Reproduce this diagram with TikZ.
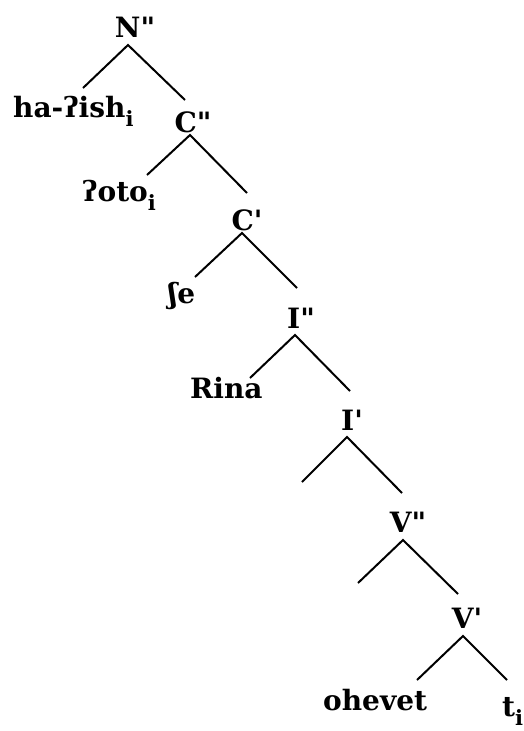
\documentclass[tikz,border=0pt]{standalone}
\usepackage{fontspec}
\setmainfont{DejaVu Serif}
\newcommand\subi{\raisebox{-9pt}{\fontsize{21}{21}\selectfont i}}
\newcommand\dpr{\textquotedbl}
\newcommand\spr{\textquotesingle}
\tikzset{
  lab/.style={inner sep=0pt, font=\fontsize{28}{30}\selectfont\bfseries},
  edge/.style={line width=2pt}
}
\begin{document}
\begin{tikzpicture}[x=1pt,y=-1pt]
\useasboundingbox[fill=white] (0,0) rectangle (524,731);
% labels
\node[lab, anchor=base] (N) at (135,37) {N\dpr};
\node[lab, anchor=base west] (ha) at (13,117) {ha-ʔish\subi};
\node[lab, anchor=base] (C2) at (193,132) {C\dpr};
\node[lab, anchor=base west] (oto) at (82,201) {ʔoto\subi};
\node[lab, anchor=base] (C1) at (247,230) {C\spr};
\node[lab, anchor=base west] (se) at (168,303) {ʃe};
\node[lab, anchor=base] (I2) at (301,328) {I\dpr};
\node[lab, anchor=base west] (rina) at (190,398) {Rina};
\node[lab, anchor=base] (I1) at (352,430) {I\spr};
\node[lab, anchor=base] (V2) at (408,532) {V\dpr};
\node[lab, anchor=base] (V1) at (467,628) {V\spr};
\node[lab, anchor=base west] (oh) at (323,710) {ohevet};
\node[lab, anchor=base west] (t) at (502,716) {t\subi};
% branch points
\coordinate (Na) at (128,45);  \coordinate (Nl) at (83,88);   \coordinate (Nr) at (185,100);
\coordinate (C2a) at (190,135); \coordinate (C2l) at (147,175); \coordinate (C2r) at (247,193);
\coordinate (C1a) at (242,233); \coordinate (C1l) at (195,277); \coordinate (C1r) at (297,288);
\coordinate (I2a) at (295,335); \coordinate (I2l) at (250,378); \coordinate (I2r) at (350,391);
\coordinate (I1a) at (347,437); \coordinate (I1l) at (302,482); \coordinate (I1r) at (402,493);
\coordinate (V2a) at (403,540); \coordinate (V2l) at (358,583); \coordinate (V2r) at (458,594);
\coordinate (V1a) at (463,636); \coordinate (V1l) at (417,680); \coordinate (V1r) at (507,680);
% connectors
\draw[edge] (Nl) -- (Na) -- (Nr);
\draw[edge] (C2l) -- (C2a) -- (C2r);
\draw[edge] (C1l) -- (C1a) -- (C1r);
\draw[edge] (I2l) -- (I2a) -- (I2r);
\draw[edge] (I1l) -- (I1a) -- (I1r);
\draw[edge] (V2l) -- (V2a) -- (V2r);
\draw[edge] (V1l) -- (V1a) -- (V1r);
\end{tikzpicture}
\end{document}
